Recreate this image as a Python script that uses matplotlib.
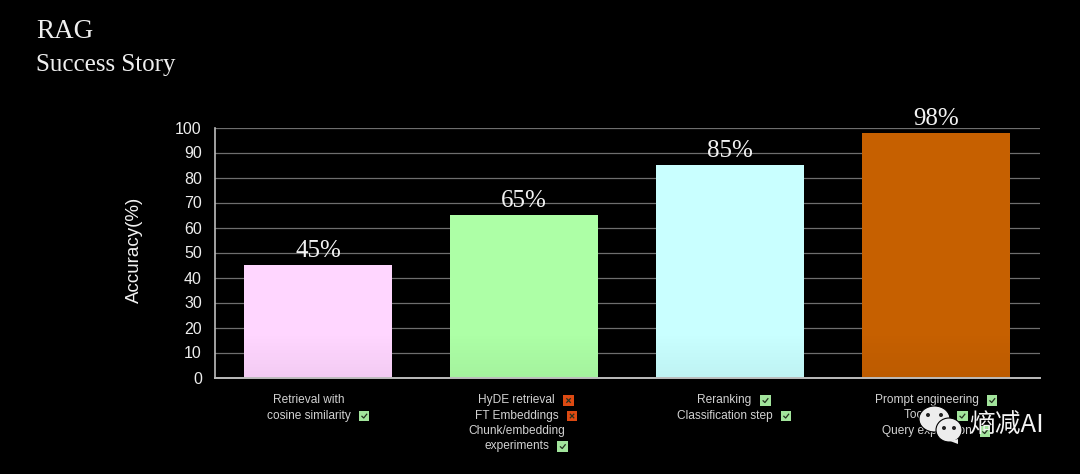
#!/usr/bin/env python3
import numpy as np
import matplotlib
matplotlib.use("Agg")
import matplotlib.pyplot as plt
from matplotlib.lines import Line2D
from matplotlib.patches import Ellipse, Polygon, Rectangle

W, H = 1080, 474

accuracy = [45, 65, 85, 98]
bar_labels = ["45%", "65%", "85%", "98%"]
y_ticks = list(range(0, 101, 10))
bar_colors = ["#FFD6FF", "#ADFFA6", "#C9FFFF", "#C66000"]

# one entry per text line: text and badge (None, "ok" or "no")
notes_0 = [("Retrieval with", None), ("cosine similarity", "ok")]
notes_1 = [("HyDE retrieval", "no"), ("FT Embeddings", "no"),
           ("Chunk/embedding", None), ("experiments", "ok")]
notes_2 = [("Reranking", "ok"), ("Classification step", "ok")]
notes_3 = [("Prompt engineering", "ok"), ("Tool use", "ok"), ("Query expansion", "ok")]
notes = [notes_0, notes_1, notes_2, notes_3]
note_shift = [0, 2, 4, 0]

SERIF = "Liberation Serif"
SANS = "Liberation Sans"


def fx(px):
    return px / W


def fy(py):
    return 1 - py / H


def add_badge(fig, x, y, kind):
    # x is the left edge, y the vertical centre, both in pixels from the top left
    size = 10.5
    face = "#A2E49C" if kind == "ok" else "#DD4A12"
    fig.add_artist(Rectangle((fx(x), fy(y + size / 2)), size / W, size / H,
                             transform=fig.transFigure, facecolor=face, edgecolor="none", zorder=5))
    if kind == "ok":
        segs = [([x + 3, x + 4.8, x + 7.8], [y + 0.3, y + 2, y - 1.8])]
    else:
        segs = [([x + 3.5, x + 7], [y - 1.8, y + 1.8]), ([x + 3.5, x + 7], [y + 1.8, y - 1.8])]
    for xs, ys in segs:
        fig.add_artist(Line2D([fx(v) for v in xs], [fy(v) for v in ys],
                              transform=fig.transFigure, color="#243020", lw=0.9, zorder=6))


def draw_notes(fig, ax, renderer):
    line_y = [400, 415.5, 431, 446]
    for i, lines in enumerate(notes):
        cx = ax.transData.transform((i, 0))[0] + note_shift[i]
        for (txt, badge), y in zip(lines, line_y):
            t = fig.text(fx(cx), fy(y), txt, ha="center", va="center", color="#D2D2D2",
                         fontsize=8.6, family=SANS)
            width = t.get_window_extent(renderer).width
            if badge is None:
                t.set_x(fx(cx - 9))
                continue
            left = cx - (width + 19) / 2
            t.set_x(fx(left + width / 2))
            add_badge(fig, left + width + 8.5, y + 0.5, badge)


def draw_watermark(fig):
    icon = "#EDEDED"
    for cx, cy, rx, ry in [(934.5, 419, 15.5, 13), (949, 430, 13, 12)]:
        fig.add_artist(Ellipse((fx(cx), fy(cy)), 2 * rx / W, 2 * ry / H, transform=fig.transFigure,
                               facecolor=icon, edgecolor="#000000", lw=0.8, zorder=8))
    fig.add_artist(Polygon([(fx(950), fy(441)), (fx(958), fy(439)), (fx(958), fy(444))],
                           transform=fig.transFigure, facecolor=icon, edgecolor="none", zorder=8))
    for x, y in [(928, 415), (941, 415), (944, 428), (954, 428)]:
        fig.add_artist(Ellipse((fx(x), fy(y)), 4 / W, 4 / H, transform=fig.transFigure,
                               facecolor="#222222", edgecolor="none", zorder=9))
    fig.text(fx(969), fy(425), "熵减AI", ha="left", va="center", color="#F4F4F4", fontsize=18.5,
             family=["Noto Sans CJK SC", "DejaVu Sans"], zorder=10)


def main():
    fig = plt.figure(figsize=(W / 100, H / 100), dpi=100, facecolor="black")
    ax = fig.add_axes([215 / W, 1 - 377.5 / H, 825 / W, 250 / H], facecolor="black")

    x = np.arange(len(accuracy))
    ax.bar(x, accuracy, width=0.717, color=bar_colors, zorder=3)

    # bars fade slightly darker near the baseline
    shade = np.zeros((64, 2, 4))
    shade[:, :, 3] = np.linspace(0.05, 0.0, 64)[:, None]
    for i in x:
        ax.imshow(shade, extent=(i - 0.3585, i + 0.3585, 0, 18), origin="lower",
                  aspect="auto", zorder=4, interpolation="bilinear")

    ax.set_xlim(-0.5, 3.505)
    ax.set_ylim(0, 100)
    ax.set_xticks([])
    ax.set_yticks(y_ticks)
    ax.tick_params(axis="y", length=0, pad=9.5, labelcolor="#EDEDED", labelsize=11.5)
    for lab in ax.get_yticklabels():
        lab.set_family(SANS)
    ax.grid(axis="y", color="#6E6E6E", lw=0.9, zorder=1)
    ax.spines["top"].set_visible(False)
    ax.spines["right"].set_visible(False)
    ax.spines["left"].set_color("#BDBDBD")
    ax.spines["bottom"].set_color("#BDBDBD")
    ax.spines["left"].set_linewidth(1.2)
    ax.spines["bottom"].set_linewidth(1.4)
    for sp in ax.spines.values():
        sp.set_zorder(6)

    for i, (v, lab) in enumerate(zip(accuracy, bar_labels)):
        ax.annotate(lab, (i, v), xytext=(0, 2), textcoords="offset points", ha="center", va="bottom",
                    color="#F2F2F2", fontsize=18, family=SERIF, annotation_clip=False)

    fig.text(fx(134.5), fy(250), "Accuracy(%)", rotation=90, ha="center", va="center", color="#F2F2F2",
             fontsize=13.5, family=SANS)
    fig.text(fx(36), fy(31), "RAG", ha="left", va="center", color="#EFEFEF", fontsize=19.5, family=SERIF)
    fig.text(fx(36), fy(65), "Success Story", ha="left", va="center", color="#EFEFEF", fontsize=18,
             family=SERIF)

    fig.canvas.draw()
    draw_notes(fig, ax, fig.canvas.get_renderer())
    draw_watermark(fig)

    fig.savefig("out.png", dpi=100, facecolor="black")
    plt.close(fig)


if __name__ == "__main__":
    main()
